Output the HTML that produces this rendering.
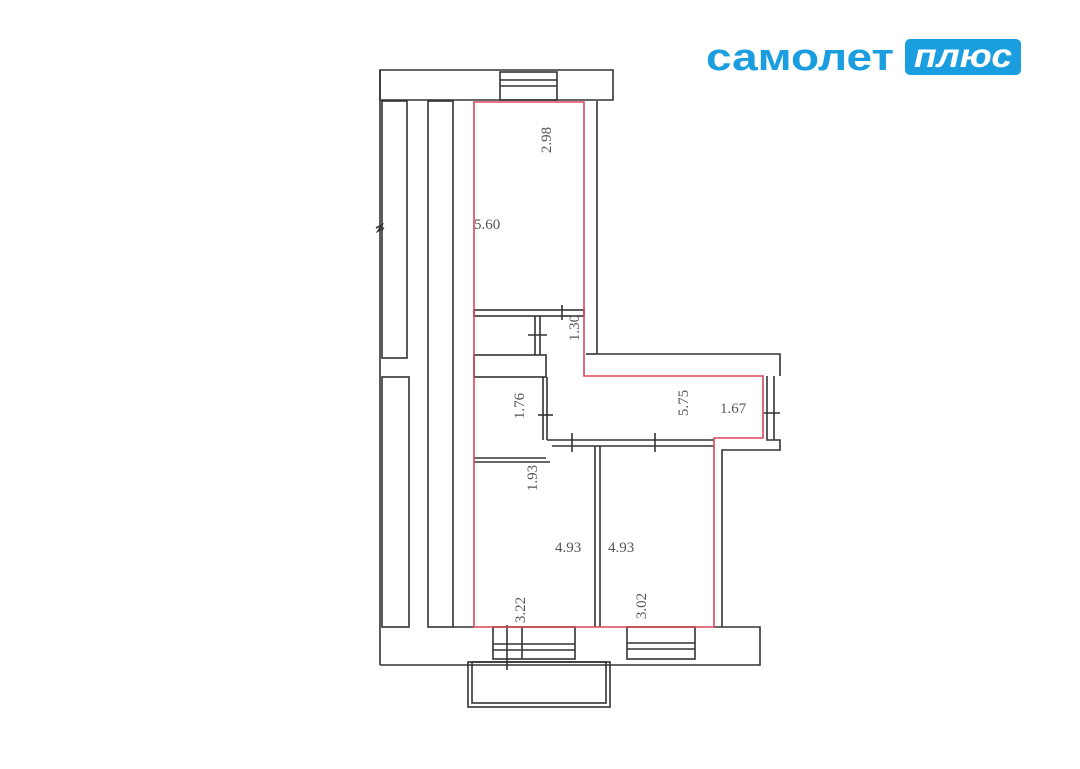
<!DOCTYPE html>
<html><head><meta charset="utf-8"><style>
body{margin:0;background:#fff;width:1080px;height:764px;overflow:hidden;font-family:"Liberation Serif",serif}
</style></head><body>
<svg width="1080" height="764" viewBox="0 0 1080 764" xmlns="http://www.w3.org/2000/svg">
<g fill="none" stroke="#333" stroke-width="1.6">
<path d="M380 70 H613 V100 H380 Z"/>
<rect x="500" y="72" width="57" height="28"/>
<line x1="500" y1="80" x2="557" y2="80"/><line x1="500" y1="86" x2="557" y2="86"/>
<line x1="380" y1="70" x2="380" y2="665"/>
<rect x="382" y="101" width="25" height="257"/>
<rect x="382" y="377" width="27" height="250"/>
<rect x="428" y="101" width="25" height="526"/>
<path d="M376 228 l6 -3 l-4 6 l6 -3"/>
<line x1="597" y1="101" x2="597" y2="354"/>
<rect x="474" y="310" width="110" height="6"/>
<line x1="535" y1="316" x2="535" y2="355"/><line x1="540" y1="316" x2="540" y2="355"/>
<line x1="528" y1="335" x2="547" y2="335"/>
<line x1="562" y1="305" x2="562" y2="320"/>
<rect x="474" y="355" width="72" height="22"/>
<line x1="543" y1="377" x2="543" y2="440"/><line x1="547" y1="377" x2="547" y2="440"/>
<line x1="538" y1="415" x2="553" y2="415"/>
<line x1="474" y1="458" x2="546" y2="458"/><line x1="474" y1="462" x2="550" y2="462"/>
<path d="M597 354 H780 V376"/>
<path d="M586 354 H597"/>
<path d="M767 376 V440 H780 V450 H722 V627"/>
<path d="M774 376 V440"/>
<line x1="763" y1="413" x2="780" y2="413"/>
<path d="M547 440 H714"/><path d="M552 446 H714"/>
<line x1="572" y1="433" x2="572" y2="452"/>
<line x1="655" y1="433" x2="655" y2="452"/>
<line x1="595" y1="446" x2="595" y2="627"/><line x1="600" y1="446" x2="600" y2="627"/>
<path d="M380 665 H760 V627 H714"/>
<line x1="453" y1="627" x2="474" y2="627"/>
<rect x="493" y="627" width="82" height="32"/>
<line x1="493" y1="644" x2="575" y2="644"/><line x1="493" y1="650" x2="575" y2="650"/>
<line x1="507" y1="625" x2="507" y2="670"/><line x1="522" y1="627" x2="522" y2="659"/>
<rect x="627" y="627" width="68" height="32"/>
<line x1="627" y1="643" x2="695" y2="643"/><line x1="627" y1="649" x2="695" y2="649"/>
<rect x="468" y="662" width="142" height="45"/>
<rect x="472" y="662" width="134" height="41"/>
</g>
<g fill="none" stroke="#d9475a" stroke-width="1.6">
<path d="M474 102 H584 V376 H763 V438 H714 V627 H474 Z"/>
</g>
<g fill="#555" font-size="15">
<text x="474" y="229">5.60</text>
<text x="546" y="145" transform="rotate(-90 546 140)" text-anchor="middle">2.98</text>
<text x="574" y="333" transform="rotate(-90 574 328)" text-anchor="middle">1.30</text>
<text x="519" y="411" transform="rotate(-90 519 406)" text-anchor="middle">1.76</text>
<text x="688" y="413" transform="rotate(-90 683 408)" text-anchor="middle">5.75</text>
<text x="720" y="413">1.67</text>
<text x="544" y="495" transform="rotate(-90 532 490)" text-anchor="middle">1.93</text>
<text x="555" y="552">4.93</text>
<text x="608" y="552">4.93</text>
<text x="520" y="615" transform="rotate(-90 520 610)" text-anchor="middle">3.22</text>
<text x="645" y="615" transform="rotate(-90 641 610)" text-anchor="middle">3.02</text>
</g>
<text x="706" y="70" font-family="Liberation Sans,sans-serif" font-weight="bold" font-size="38" fill="#1a9ee0" textLength="188" lengthAdjust="spacingAndGlyphs">самолет</text>
<rect x="905" y="39" width="116" height="36" rx="5" fill="#1a9ee0"/>
<text x="963" y="67" text-anchor="middle" font-family="Liberation Sans,sans-serif" font-weight="bold" font-style="italic" font-size="33" fill="#fff" textLength="98" lengthAdjust="spacingAndGlyphs">плюс</text>
</svg>
</body></html>
